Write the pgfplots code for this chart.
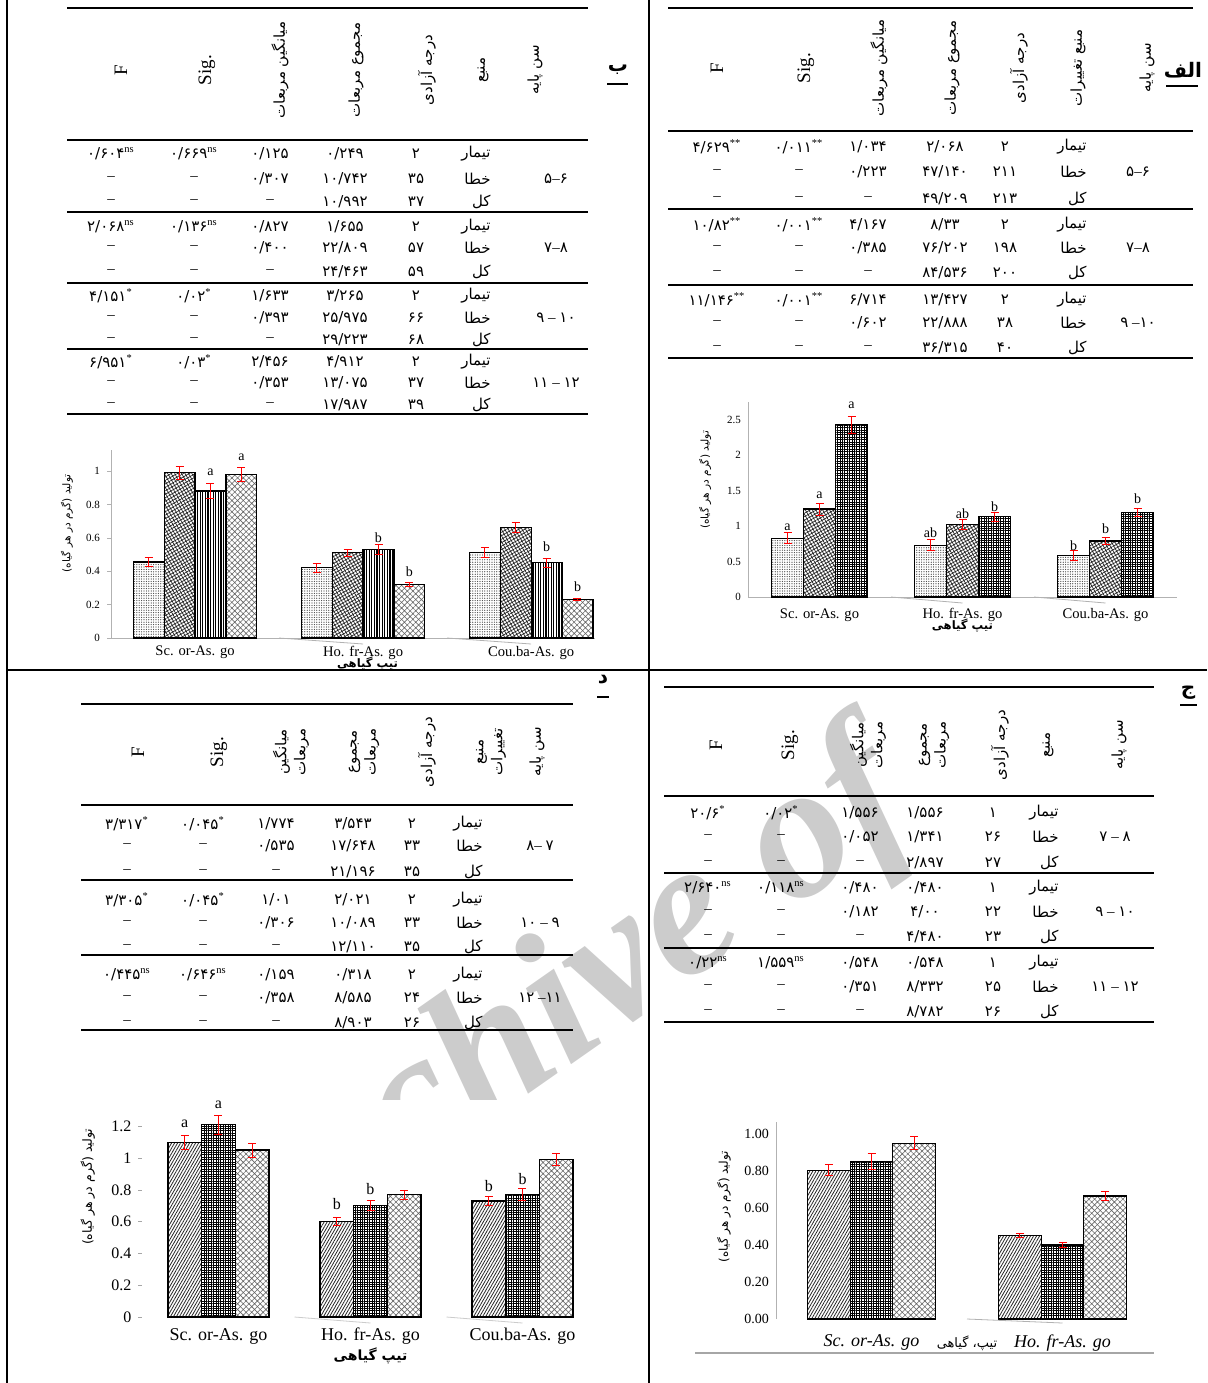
\documentclass[border=0pt]{standalone}
\usepackage{fontspec}
\setmainfont{Liberation Serif}
\newfontfamily\persian[Script=Arabic]{DejaVu Sans}
\usepackage{pgfplots}
\pgfplotsset{compat=1.18}
\usetikzlibrary{patterns.meta}
\TeXXeTstate=1

\newcommand\fa[1]{{\persian\beginR #1\endR}}
\newcommand\nm[1]{{\persian #1}}
\newcommand\sg[2]{{\persian #1}\textsuperscript{#2}}
\newcommand\ag[3]{{\persian #1}#2{\persian #3}}
\newcommand\da{\textendash}
% one table row: y, source, df, SS, MS, Sig, F
\newcommand\trow[7]{%
  \node[anchor=east] at (\cR,#1) {\fa{#2}};
  \node at (\cD,#1) {\nm{#3}};
  \node at (\cSS,#1) {\nm{#4}};
  \node at (\cM,#1) {#5};
  \node at (\cS,#1) {#6};
  \node at (\cF,#1) {#7};}

\tikzset{
  rule/.style={line width=1.2pt},
  lab/.style={font=\fontsize{7}{8}\selectfont, inner sep=0pt},
  hd/.style={rotate=90, align=center, font=\fontsize{7.5}{9.5}\selectfont},
  hl/.style={rotate=90, font=\fontsize{9.5}{10}\selectfont},
}
\pgfplotsset{
  eb/.style={error bars/y dir=both, error bars/y explicit,
    error bars/error bar style={red, line width=0.5pt},
    error bars/error mark options={rotate=90, red, mark size=2pt, line width=0.5pt}},
  bb/.style={draw=black, line width=0.6pt},
  pA/.style={pattern={Dots[distance=1.2pt,radius=0.32pt]}, pattern color=black!75},
  pB/.style={pattern={Hatch[distance=1.5pt,angle=30,line width=0.35pt]}, pattern color=black!85},
  pC/.style={pattern={Hatch[distance=1.2pt,angle=0,line width=0.5pt]}, pattern color=black},
  pD/.style={pattern={Lines[distance=1.3pt,angle=90,line width=0.55pt]}, pattern color=black},
  pE/.style={pattern={Hatch[distance=2pt,angle=45,line width=0.3pt]}, pattern color=black!60},
  pF/.style={pattern={Lines[distance=1.3pt,angle=60,line width=0.4pt]}, pattern color=black!85},
  base/.style={scale only axis, anchor=south west, ybar=0pt, ymin=0, clip=false,
    axis x line*=bottom, axis y line*=left, axis line style={gray!60},
    xtick={0,1,2}, xtick style={draw=none},
    /pgf/number format/assume math mode=true},
}

\begin{document}
\begin{tikzpicture}
\path[use as bounding box] (0pt,0pt) rectangle (603.5pt,-691.5pt);

\begin{scope}[x=0.5pt, y=-0.5pt, every node/.style={font=\fontsize{7.5}{9}\selectfont, inner sep=0pt}]
% watermark, hidden behind the white chart areas
\node[rotate=35, anchor=base, text=gray!40, font=\fontsize{96}{96}\selectfont\bfseries\itshape] at (733,951) {Archive of \phantom{SID}};
\fill[white] (680,380) rectangle (1207,612);
\fill[white] (960,612) rectangle (1207,668);
\fill[white] (60,1100) rectangle (645,1383);

% frame
\draw[line width=1pt] (7,0) -- (7,1383) (649,0) -- (649,1383) (7,670) -- (1207,670);

% ---------- table alef ----------
\def\cF{717}\def\cS{799}\def\cM{868}\def\cSS{945}\def\cD{1005}\def\cR{1087}\def\cA{1138}
\node[font=\fontsize{10}{11}\selectfont\bfseries] at (1183,70) {\fa{الف}};
\draw[line width=1pt] (1166,86) -- (1198,86);
\node[hd] at (1147,68) {\fa{سن پایه}};
\node[hd] at (1078,68) {\fa{منبع تغییرات}};
\node[hd] at (1019,68) {\fa{درجه آزادی}};
\node[hd] at (952,68) {\fa{مجموع مربعات}};
\node[hd] at (879,68) {\fa{میانگین مربعات}};
\node[hl] at (806,68) {Sig.};
\node[hl] at (717,68) {F};
\foreach \y in {8,131,209,285,358} \draw[rule] (668,\y) -- (1193,\y);
\trow{147}{تیمار}{۲}{۲/۰۶۸}{\nm{۱/۰۳۴}}{\sg{۰/۰۱۱}{**}}{\sg{۴/۶۲۹}{**}}
\trow{172}{خطا}{۲۱۱}{۴۷/۱۴۰}{\nm{۰/۲۲۳}}{\da}{\da}
\trow{199}{کل}{۲۱۳}{۴۹/۲۰۹}{\da}{\da}{\da}
\node at (\cA,172) {\ag{۵}{\textendash}{۶}};
\trow{225}{تیمار}{۲}{۸/۳۳}{\nm{۴/۱۶۷}}{\sg{۰/۰۰۱}{**}}{\sg{۱۰/۸۲}{**}}
\trow{248}{خطا}{۱۹۸}{۷۶/۲۰۲}{\nm{۰/۳۸۵}}{\da}{\da}
\trow{273}{کل}{۲۰۰}{۸۴/۵۳۶}{\da}{\da}{\da}
\node at (\cA,248) {\ag{۷}{\textendash}{۸}};
\trow{300}{تیمار}{۲}{۱۳/۴۲۷}{\nm{۶/۷۱۴}}{\sg{۰/۰۰۱}{**}}{\sg{۱۱/۱۴۶}{**}}
\trow{323}{خطا}{۳۸}{۲۲/۸۸۸}{\nm{۰/۶۰۲}}{\da}{\da}
\trow{348}{کل}{۴۰}{۳۶/۳۱۵}{\da}{\da}{\da}
\node at (\cA,323) {\ag{۹}{\ \textendash}{۱۰}};

% ---------- table be ----------
\def\cF{111}\def\cS{194}\def\cM{270}\def\cSS{345}\def\cD{416}\def\cR{491}\def\cA{556}
\node[font=\fontsize{10}{11}\selectfont\bfseries] at (618,70) {\fa{ب}};
\draw[line width=1pt] (607,84) -- (628,84);
\node[hd] at (535,70) {\fa{سن پایه}};
\node[hd] at (483,70) {\fa{منبع}};
\node[hd] at (427,70) {\fa{درجه آزادی}};
\node[hd] at (356,70) {\fa{مجموع مربعات}};
\node[hd] at (280,70) {\fa{میانگین مربعات}};
\node[hl] at (207,70) {Sig.};
\node[hl] at (121,70) {F};
\foreach \y in {8,140,212,283,349,414} \draw[rule] (67,\y) -- (588,\y);
\trow{154}{تیمار}{۲}{۰/۲۴۹}{\nm{۰/۱۲۵}}{\sg{۰/۶۶۹}{ns}}{\sg{۰/۶۰۴}{ns}}
\trow{179}{خطا}{۳۵}{۱۰/۷۴۲}{\nm{۰/۳۰۷}}{\da}{\da}
\trow{202}{کل}{۳۷}{۱۰/۹۹۲}{\da}{\da}{\da}
\node at (\cA,179) {\ag{۵}{\textendash}{۶}};
\trow{227}{تیمار}{۲}{۱/۶۵۵}{\nm{۰/۸۲۷}}{\sg{۰/۱۳۶}{ns}}{\sg{۲/۰۶۸}{ns}}
\trow{248}{خطا}{۵۷}{۲۲/۸۰۹}{\nm{۰/۴۰۰}}{\da}{\da}
\trow{272}{کل}{۵۹}{۲۴/۴۶۳}{\da}{\da}{\da}
\node at (\cA,248) {\ag{۷}{\textendash}{۸}};
\trow{296}{تیمار}{۲}{۳/۲۶۵}{\nm{۱/۶۳۳}}{\sg{۰/۰۲}{*}}{\sg{۴/۱۵۱}{*}}
\trow{318}{خطا}{۶۶}{۲۵/۹۷۵}{\nm{۰/۳۹۳}}{\da}{\da}
\trow{340}{کل}{۶۸}{۲۹/۲۲۳}{\da}{\da}{\da}
\node at (\cA,318) {\ag{۹}{\ \textendash\ }{۱۰}};
\trow{362}{تیمار}{۲}{۴/۹۱۲}{\nm{۲/۴۵۶}}{\sg{۰/۰۳}{*}}{\sg{۶/۹۵۱}{*}}
\trow{383}{خطا}{۳۷}{۱۳/۰۷۵}{\nm{۰/۳۵۳}}{\da}{\da}
\trow{405}{کل}{۳۹}{۱۷/۹۸۷}{\da}{\da}{\da}
\node at (\cA,383) {\ag{۱۱}{\ \textendash\ }{۱۲}};

% ---------- table dal ----------
\def\cF{127}\def\cS{203}\def\cM{276}\def\cSS{353}\def\cD{412}\def\cR{483}\def\cA{540}
\node[font=\fontsize{10}{11}\selectfont\bfseries] at (603,680) {\fa{د}};
\draw[line width=1pt] (597,697) -- (609,697);
\node[hd] at (537,752) {\fa{سن پایه}};
\node[hd] at (491,752) {\fa{منبع}\\\fa{تغییرات}};
\node[hd] at (427,752) {\fa{درجه آزادی}};
\node[hd] at (364,752) {\fa{مجموع}\\\fa{مربعات}};
\node[hd] at (291,752) {\fa{میانگین}\\\fa{مربعات}};
\node[hl] at (219,752) {Sig.};
\node[hl] at (138,752) {F};
\foreach \y in {704,805,880,955,1030} \draw[rule] (81,\y) -- (573,\y);
\trow{824}{تیمار}{۲}{۳/۵۴۳}{\nm{۱/۷۷۴}}{\sg{۰/۰۴۵}{*}}{\sg{۳/۳۱۷}{*}}
\trow{846}{خطا}{۳۳}{۱۷/۶۴۸}{\nm{۰/۵۳۵}}{\da}{\da}
\trow{872}{کل}{۳۵}{۲۱/۱۹۶}{\da}{\da}{\da}
\node at (\cA,846) {\ag{۸}{\textendash\ }{۷}};
\trow{900}{تیمار}{۲}{۲/۰۲۱}{\nm{۱/۰۱}}{\sg{۰/۰۴۵}{*}}{\sg{۳/۳۰۵}{*}}
\trow{923}{خطا}{۳۳}{۱۰/۰۸۹}{\nm{۰/۳۰۶}}{\da}{\da}
\trow{947}{کل}{۳۵}{۱۲/۱۱۰}{\da}{\da}{\da}
\node at (\cA,923) {\ag{۱۰}{\ \textendash\ }{۹}};
\trow{975}{تیمار}{۲}{۰/۳۱۸}{\nm{۰/۱۵۹}}{\sg{۰/۶۴۶}{ns}}{\sg{۰/۴۴۵}{ns}}
\trow{998}{خطا}{۲۴}{۸/۵۸۵}{\nm{۰/۳۵۸}}{\da}{\da}
\trow{1023}{کل}{۲۶}{۸/۹۰۳}{\da}{\da}{\da}
\node at (\cA,998) {\ag{۱۲}{\ \textendash}{۱۱}};

% ---------- table jim ----------
\def\cF{708}\def\cS{781}\def\cM{860}\def\cSS{925}\def\cD{993}\def\cR{1059}\def\cA{1115}
\node[font=\fontsize{10}{11}\selectfont\bfseries] at (1188,693) {\fa{ج}};
\draw[line width=1pt] (1180,705) -- (1197,705);
\node[hd] at (1119,745) {\fa{سن پایه}};
\node[hd] at (1048,745) {\fa{منبع}};
\node[hd] at (1000,745) {\fa{درجه آزادی}};
\node[hd] at (934,745) {\fa{مجموع}\\\fa{مربعات}};
\node[hd] at (868,745) {\fa{میانگین}\\\fa{مربعات}};
\node[hl] at (790,745) {Sig.};
\node[hl] at (716,745) {F};
\foreach \y in {687,796,873,948,1022} \draw[rule] (664,\y) -- (1154,\y);
\trow{813}{تیمار}{۱}{۱/۵۵۶}{\nm{۱/۵۵۶}}{\sg{۰/۰۲}{*}}{\sg{۲۰/۶}{*}}
\trow{837}{خطا}{۲۶}{۱/۳۴۱}{\nm{۰/۰۵۲}}{\da}{\da}
\trow{863}{کل}{۲۷}{۲/۸۹۷}{\da}{\da}{\da}
\node at (\cA,837) {\ag{۷}{\ \textendash\ }{۸}};
\trow{888}{تیمار}{۱}{۰/۴۸۰}{\nm{۰/۴۸۰}}{\sg{۰/۱۱۸}{ns}}{\sg{۲/۶۴۰}{ns}}
\trow{912}{خطا}{۲۲}{۴/۰۰}{\nm{۰/۱۸۲}}{\da}{\da}
\trow{937}{کل}{۲۳}{۴/۴۸۰}{\da}{\da}{\da}
\node at (\cA,912) {\ag{۹}{\ \textendash\ }{۱۰}};
\trow{963}{تیمار}{۱}{۰/۵۴۸}{\nm{۰/۵۴۸}}{\sg{۱/۵۵۹}{ns}}{\sg{۰/۲۲}{ns}}
\trow{987}{خطا}{۲۵}{۸/۳۳۲}{\nm{۰/۳۵۱}}{\da}{\da}
\trow{1012}{کل}{۲۶}{۸/۷۸۲}{\da}{\da}{\da}
\node at (\cA,987) {\ag{۱۱}{\ \textendash\ }{۱۲}};

\draw[gray!70, line width=1.2pt] (695,1353) -- (1154,1353);
\end{scope}

% ---------- chart alef ----------
\begin{axis}[base, at={(374pt,-298.5pt)}, width=214.5pt, height=97.5pt,
  bar width=16pt, xmin=-0.5, xmax=2.5, ymax=2.75,
  ytick={0,0.5,1,1.5,2,2.5}, ytick style={draw=none},
  xticklabels={Sc. or-As. go, Ho. fr-As. go, Cou.ba-As. go},
  x tick label style={font=\fontsize{7.3}{8}\selectfont, yshift=2pt},
  y tick label style={font=\fontsize{5.5}{6}\selectfont},
  ylabel={\fa{تولید (گرم در هر گیاه)}},
  ylabel style={font=\fontsize{5.3}{6}\selectfont, at={(axis description cs:-0.1,0.6)}, anchor=center},
  xlabel={\fa{تیپ گیاهی}},
  xlabel style={font=\fontsize{5.8}{7}\selectfont\bfseries, at={(axis description cs:0.5,-0.145)}, anchor=center}]
\addplot[bb,pA,eb] coordinates {(0,0.83) +- (0,0.075) (1,0.73) +- (0,0.08) (2,0.58) +- (0,0.07)};
\addplot[bb,pB,eb] coordinates {(0,1.24) +- (0,0.085) (1,1.02) +- (0,0.07) (2,0.79) +- (0,0.05)};
\addplot[bb,pC,eb] coordinates {(0,2.43) +- (0,0.12) (1,1.13) +- (0,0.06) (2,1.19) +- (0,0.06)};
\draw[gray!60] (axis cs:0.5,0) -- ++(0,-3pt) (axis cs:1.5,0) -- ++(0,-3pt);
\node[lab,xshift=-16pt] at (axis cs:0,0.99) {a};
\node[lab] at (axis cs:0,1.44) {a};
\node[lab,xshift=16pt] at (axis cs:0,2.71) {a};
\node[lab,xshift=-16pt] at (axis cs:1,0.90) {ab};
\node[lab] at (axis cs:1,1.18) {ab};
\node[lab,xshift=16pt] at (axis cs:1,1.28) {b};
\node[lab,xshift=-16pt] at (axis cs:2,0.73) {b};
\node[lab] at (axis cs:2,0.96) {b};
\node[lab,xshift=16pt] at (axis cs:2,1.38) {b};
\end{axis}

% ---------- chart be ----------
\begin{axis}[base, at={(55.5pt,-319pt)}, width=242pt, height=94pt,
  bar width=15.45pt, xmin=-0.5, xmax=2.38, ymax=1.126,
  ytick={0,0.2,0.4,0.6,0.8,1}, ytick style={gray!60}, tick align=outside, major tick length=2pt,
  xticklabels={Sc. or-As. go, Ho. fr-As. go, Cou.ba-As. go},
  x tick label style={font=\fontsize{7.3}{8}\selectfont, yshift=1.5pt},
  y tick label style={font=\fontsize{5.5}{6}\selectfont},
  ylabel={\fa{تولید (گرم در هر گیاه)}},
  ylabel style={font=\fontsize{5.3}{6}\selectfont, at={(axis description cs:-0.091,0.61)}, anchor=center},
  xlabel={\fa{تیپ گیاهی}},
  xlabel style={font=\fontsize{5.8}{7}\selectfont\bfseries, at={(axis description cs:0.53,-0.135)}, anchor=center}]
\addplot[bb,pA,eb] coordinates {(0,0.455) +- (0,0.025) (1,0.42) +- (0,0.025) (2,0.51) +- (0,0.03)};
\addplot[bb,pB,eb] coordinates {(0,0.99) +- (0,0.04) (1,0.51) +- (0,0.02) (2,0.66) +- (0,0.03)};
\addplot[bb,pD,eb] coordinates {(0,0.88) +- (0,0.045) (1,0.53) +- (0,0.03) (2,0.45) +- (0,0.025)};
\addplot[bb,pE,eb] coordinates {(0,0.98) +- (0,0.04) (1,0.32) +- (0,0.012) (2,0.23) +- (0,0.008)};
\draw[gray!60] (axis cs:0.5,0) -- ++(0,-3pt) (axis cs:1.5,0) -- ++(0,-3pt);
\node[lab,xshift=7.7pt] at (axis cs:0,0.994) {a};
\node[lab,xshift=23.2pt] at (axis cs:0,1.084) {a};
\node[lab,xshift=7.7pt] at (axis cs:1,0.60) {b};
\node[lab,xshift=23.2pt] at (axis cs:1,0.395) {b};
\node[lab,xshift=7.7pt] at (axis cs:2,0.545) {b};
\node[lab,xshift=23.2pt] at (axis cs:2,0.305) {b};
\end{axis}

% ---------- chart dal ----------
\begin{axis}[base, at={(71.25pt,-658.5pt)}, width=228pt, height=103.35pt,
  bar width=16.85pt, xmin=-0.5, xmax=2.5, ymax=1.3,
  axis line style={draw=none},
  ytick={0,0.2,0.4,0.6,0.8,1,1.2}, ytick style={gray!70}, tick align=outside, major tick length=2pt,
  xticklabels={Sc. or-As. go, Ho. fr-As. go, Cou.ba-As. go},
  x tick label style={font=\fontsize{9}{10}\selectfont},
  y tick label style={font=\fontsize{8}{9}\selectfont},
  ylabel={\fa{تولید (گرم در هر گیاه)}},
  ylabel style={font=\fontsize{6.3}{7}\selectfont, at={(axis description cs:-0.12,0.63)}, anchor=center},
  xlabel={\fa{تیپ گیاهی}},
  xlabel style={font=\fontsize{7}{8}\selectfont\bfseries, at={(axis description cs:0.5,-0.189)}, anchor=center}]
\addplot[bb,pF,eb] coordinates {(0,1.10) +- (0,0.044) (1,0.60) +- (0,0.025) (2,0.73) +- (0,0.028)};
\addplot[bb,pC,eb] coordinates {(0,1.21) +- (0,0.06) (1,0.70) +- (0,0.033) (2,0.77) +- (0,0.037)};
\addplot[bb,pE,eb] coordinates {(0,1.05) +- (0,0.044) (1,0.77) +- (0,0.028) (2,0.99) +- (0,0.04)};
\draw[gray!40] (axis cs:0.5,0) -- ++(0,-3pt) (axis cs:1.5,0) -- ++(0,-3pt);
\node[lab,font=\fontsize{8}{9}\selectfont,xshift=-16.85pt] at (axis cs:0,1.214) {a};
\node[lab,font=\fontsize{8}{9}\selectfont] at (axis cs:0,1.333) {a};
\node[lab,font=\fontsize{8}{9}\selectfont,xshift=-16.85pt] at (axis cs:1,0.71) {b};
\node[lab,font=\fontsize{8}{9}\selectfont] at (axis cs:1,0.805) {b};
\node[lab,font=\fontsize{8}{9}\selectfont,xshift=-16.85pt] at (axis cs:2,0.824) {b};
\node[lab,font=\fontsize{8}{9}\selectfont] at (axis cs:2,0.868) {b};
\end{axis}

% ---------- chart jim ----------
\begin{axis}[base, at={(388pt,-659.5pt)}, width=191pt, height=98.5pt,
  bar width=21.35pt, xmin=-0.5, xmax=1.5, ymax=1.065,
  x axis line style={draw=none},
  xtick={0,1}, ytick={0,0.2,0.4,0.6,0.8,1}, ytick style={draw=none},
  y tick label style={font=\fontsize{7}{8}\selectfont,
    /pgf/number format/fixed, /pgf/number format/fixed zerofill, /pgf/number format/precision=2},
  xticklabels={Sc. or-As. go, Ho. fr-As. go},
  x tick label style={font=\fontsize{9}{10}\selectfont\itshape},
  ylabel={\fa{تولید (گرم در هر گیاه)}},
  ylabel style={font=\fontsize{6}{7}\selectfont, at={(axis description cs:-0.136,0.57)}, anchor=center},
  xlabel={\fa{تیپ، گیاهی}},
  xlabel style={font=\fontsize{6.5}{8}\selectfont, at={(axis description cs:0.5,-0.122)}, anchor=center}]
\addplot[bb,pF,eb] coordinates {(0,0.805) +- (0,0.03) (1,0.45) +- (0,0.01)};
\addplot[bb,pC,eb] coordinates {(0,0.85) +- (0,0.043) (1,0.40) +- (0,0.013)};
\addplot[bb,pE,eb] coordinates {(0,0.95) +- (0,0.036) (1,0.665) +- (0,0.026)};
\draw[gray!60] (axis cs:0.5,0) -- ++(0,-2pt);
\end{axis}
\end{tikzpicture}
\end{document}
